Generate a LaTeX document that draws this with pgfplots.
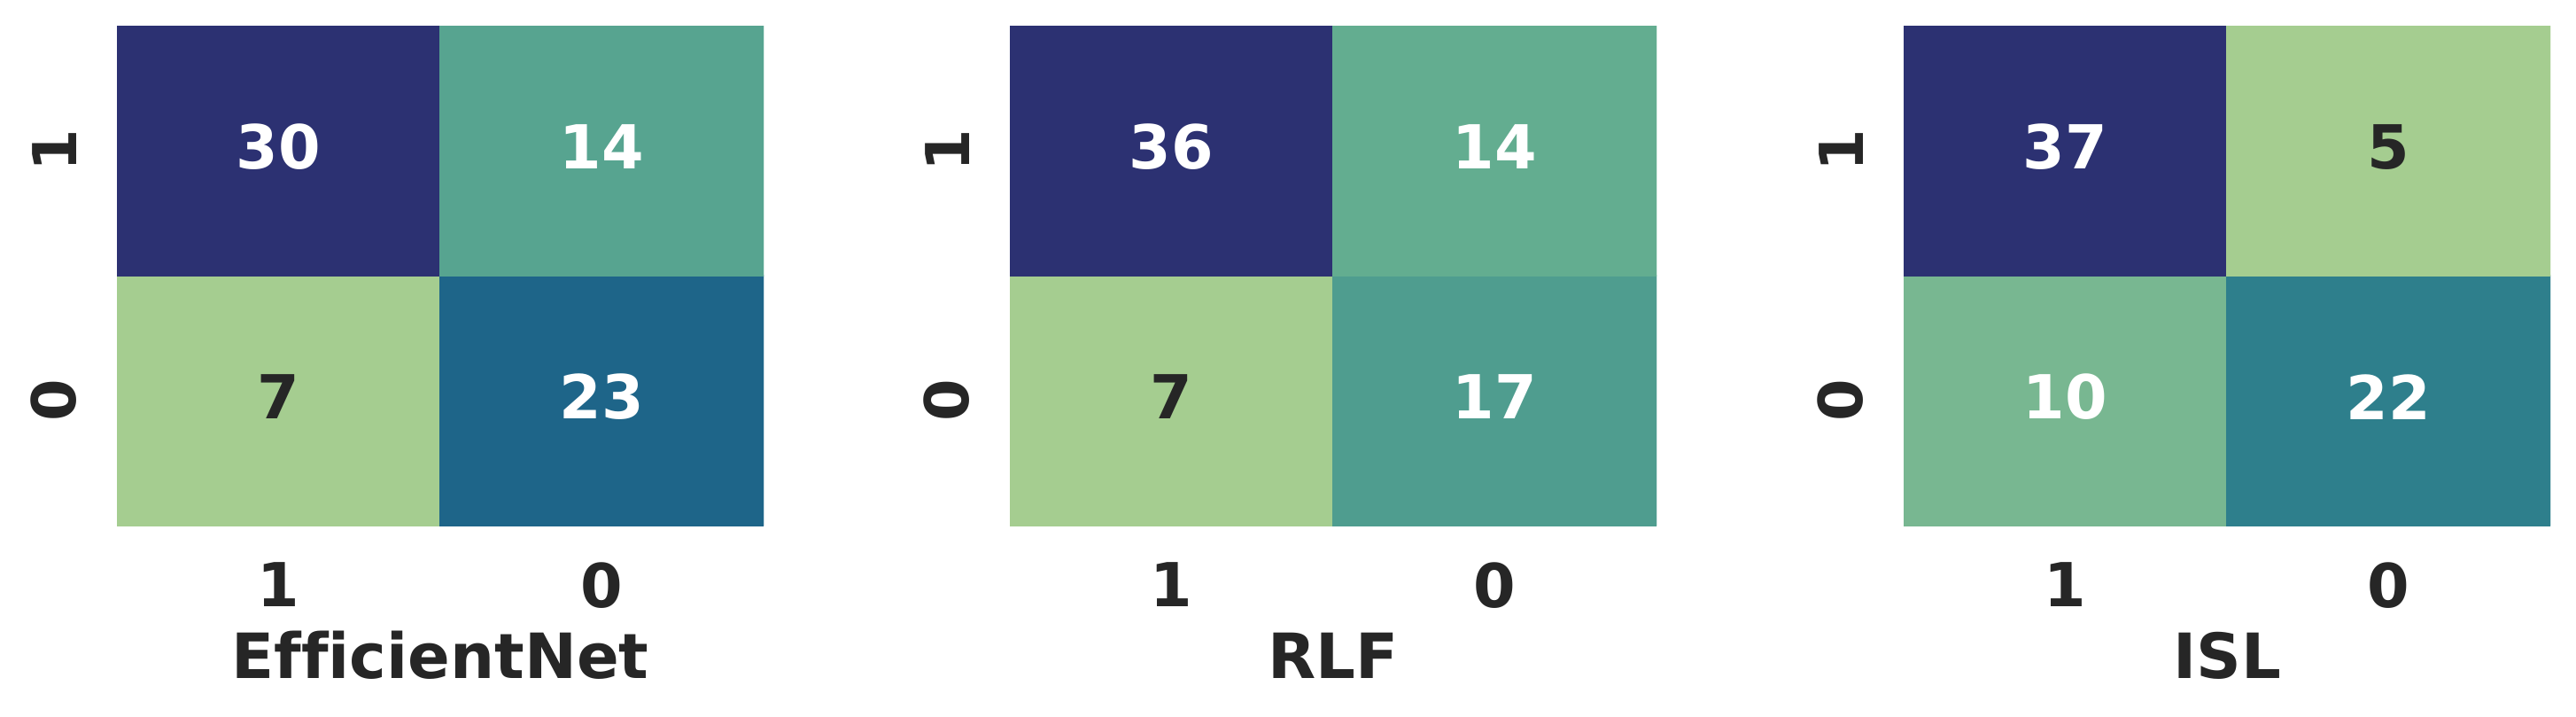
\documentclass[border=0pt]{standalone}
\usepackage{pgfplots}
\pgfplotsset{compat=1.18}
\usepackage{fontspec}
\setmainfont[Ligatures=NoCommon]{DejaVu Sans}
\definecolor{lab}{HTML}{262626}
\newcommand{\cmfont}{\fontsize{17.1}{20}\selectfont\bfseries}
\newcommand{\lbfont}{\fontsize{17.6}{20}\selectfont\bfseries}
\pgfplotsset{
  colormap={crest}{rgb255(0pt)=(165,205,144) rgb255(156pt)=(120,183,145) rgb255(241pt)=(99,173,144) rgb255(304pt)=(87,164,144) rgb255(345pt)=(79,157,143) rgb255(531pt)=(46,127,140) rgb255(696pt)=(30,101,137) rgb255(850pt)=(38,76,128) rgb255(1000pt)=(44,49,114)},
  cm/.style={
    width=182.5pt, height=141pt, scale only axis,
    anchor=south west,
    xmin=-0.5, xmax=1.5, ymin=-0.5, ymax=1.5,
    axis line style={draw=none}, major tick length=0pt,
    xtick={0,1}, xticklabels={1,0}, ytick={0,1}, yticklabels={0,1},
    tick label style={font=\cmfont, text=lab},
    xticklabel style={anchor=north, inner sep=0pt, outer sep=0pt, outer ysep=10.5pt},
    yticklabel style={rotate=90, anchor=south, inner sep=0pt, outer sep=0pt, outer ysep=11.5pt},
    xlabel style={at={(axis description cs:0.5,0)}, anchor=base, inner sep=0pt, yshift=-43pt, font=\lbfont, text=lab},
    colormap name=crest,
  },
  cells/.style={matrix plot*, point meta=explicit, mesh/cols=2},
  nums/.style={only marks, mark=none, mesh/cols=1, mesh/check=false, point meta=explicit symbolic,
    nodes near coords={\pgfplotspointmeta}, nodes near coords align=center,
    nodes near coords style={font=\cmfont, text=#1, yshift=1pt, inner sep=0pt}},
}
\begin{document}
\begin{tikzpicture}
\useasboundingbox (0,0) rectangle (727pt,202pt);
% EfficientNet
\begin{axis}[cm, at={(33pt,53.75pt)}, xlabel={EfficientNet}, point meta min=7, point meta max=30]
\addplot[cells] table[meta=c]{
x y c
0 0 7
1 0 23
0 1 30
1 1 14
};
\addplot[nums=white] table[meta=c]{
x y c
1 0 23
0 1 30
1 1 14
};
\addplot[nums=lab] table[meta=c]{
x y c
0 0 7
};
\end{axis}
% RLF
\begin{axis}[cm, at={(285pt,53.75pt)}, xlabel={RLF}, point meta min=7, point meta max=36]
\addplot[cells] table[meta=c]{
x y c
0 0 7
1 0 17
0 1 36
1 1 14
};
\addplot[nums=white] table[meta=c]{
x y c
1 0 17
0 1 36
1 1 14
};
\addplot[nums=lab] table[meta=c]{
x y c
0 0 7
};
\end{axis}
% ISL
\begin{axis}[cm, at={(537.25pt,53.75pt)}, xlabel={ISL}, point meta min=5, point meta max=37]
\addplot[cells] table[meta=c]{
x y c
0 0 10
1 0 22
0 1 37
1 1 5
};
\addplot[nums=white] table[meta=c]{
x y c
0 0 10
1 0 22
0 1 37
};
\addplot[nums=lab] table[meta=c]{
x y c
1 1 5
};
\end{axis}
\end{tikzpicture}
\end{document}
